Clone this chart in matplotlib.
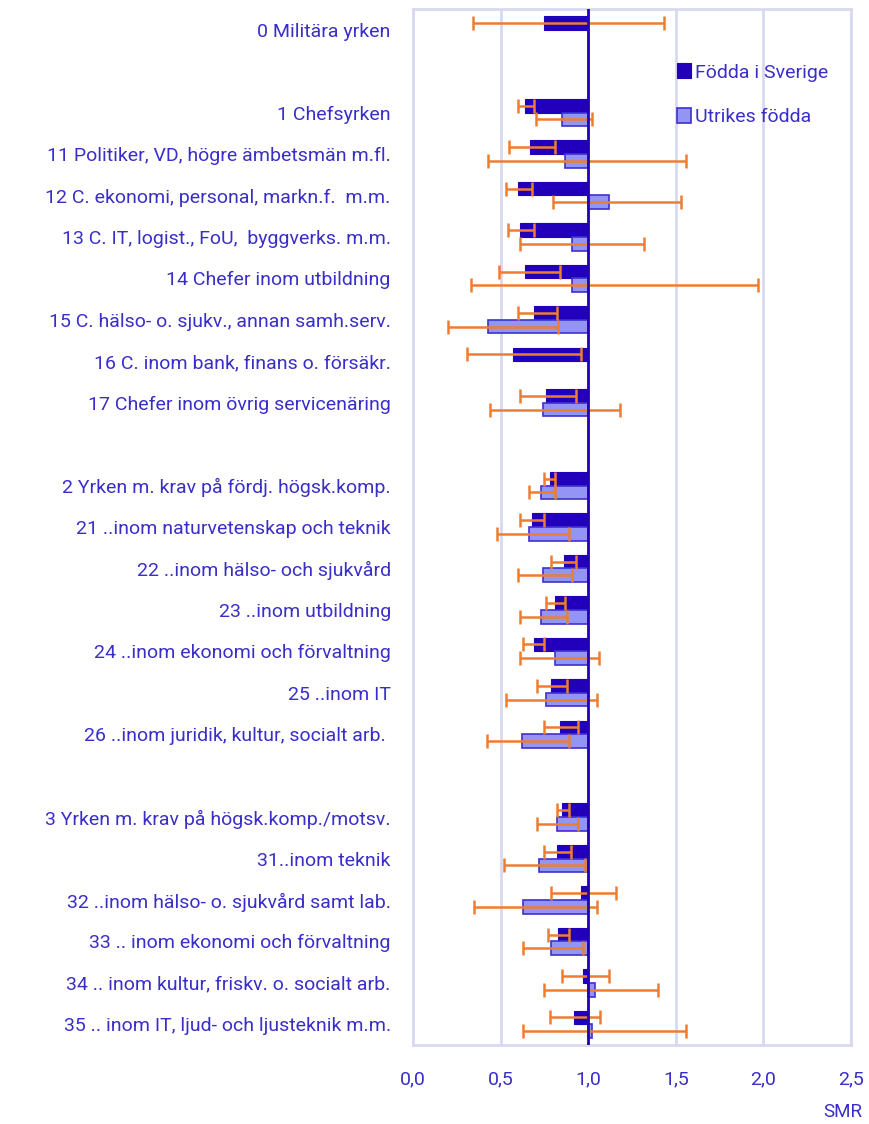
import numpy as np
import matplotlib.pyplot as plt


LABELS = [
    "0 Militära yrken",
    "",
    "1 Chefsyrken",
    "11 Politiker, VD, högre ämbetsmän m.fl.",
    "12 C. ekonomi, personal, markn.f.  m.m.",
    "13 C. IT, logist., FoU,  byggverks. m.m.",
    "14 Chefer inom utbildning",
    "15 C. hälso- o. sjukv., annan samh.serv.",
    "16 C. inom bank, finans o. försäkr.",
    "17 Chefer inom övrig servicenäring",
    "",
    "2 Yrken m. krav på fördj. högsk.komp.",
    "21 ..inom naturvetenskap och teknik",
    "22 ..inom hälso- och sjukvård",
    "23 ..inom utbildning",
    "24 ..inom ekonomi och förvaltning",
    "25 ..inom IT",
    "26 ..inom juridik, kultur, socialt arb. ",
    "",
    "3 Yrken m. krav på högsk.komp./motsv.",
    "31..inom teknik",
    "32 ..inom hälso- o. sjukvård samt lab.",
    "33 .. inom ekonomi och förvaltning",
    "34 .. inom kultur, friskv. o. socialt arb.",
    "35 .. inom IT, ljud- och ljusteknik m.m.",
]

nan = np.nan

# Födda i Sverige: SMR, lower and upper confidence limit
SWE_SMR = [0.75, nan, 0.64, 0.67, 0.60, 0.61, 0.64, 0.69, 0.57, 0.76, nan,
           0.78, 0.68, 0.86, 0.81, 0.69, 0.79, 0.84, nan,
           0.85, 0.82, 0.96, 0.83, 0.97, 0.92]
SWE_LO = [0.34, nan, 0.60, 0.55, 0.53, 0.54, 0.49, 0.60, 0.31, 0.61, nan,
          0.75, 0.61, 0.79, 0.76, 0.63, 0.71, 0.75, nan,
          0.82, 0.75, 0.79, 0.77, 0.85, 0.78]
SWE_HI = [1.43, nan, 0.69, 0.81, 0.68, 0.69, 0.84, 0.82, 0.96, 0.93, nan,
          0.81, 0.75, 0.93, 0.87, 0.75, 0.88, 0.94, nan,
          0.89, 0.90, 1.16, 0.89, 1.12, 1.07]

# Utrikes födda
FOR_SMR = [nan, nan, 0.85, 0.87, 1.12, 0.91, 0.91, 0.43, nan, 0.74, nan,
           0.73, 0.66, 0.74, 0.73, 0.81, 0.76, 0.62, nan,
           0.82, 0.72, 0.63, 0.79, 1.04, 1.02]
FOR_LO = [nan, nan, 0.70, 0.43, 0.80, 0.61, 0.33, 0.20, nan, 0.44, nan,
          0.66, 0.48, 0.60, 0.61, 0.61, 0.53, 0.42, nan,
          0.71, 0.52, 0.35, 0.63, 0.75, 0.63]
FOR_HI = [nan, nan, 1.02, 1.56, 1.53, 1.32, 1.97, 0.83, nan, 1.18, nan,
          0.81, 0.89, 0.91, 0.88, 1.06, 1.05, 0.89, nan,
          0.94, 0.98, 1.05, 0.97, 1.40, 1.56]

X_TICKS = [0.0, 0.5, 1.0, 1.5, 2.0, 2.5]
X_TICK_LABELS = ["0,0", "0,5", "1,0", "1,5", "2,0", "2,5"]

TEXT_COLOR = "#3a2ec8"
DARK = "#2200bb"
LIGHT = "#9494f4"
ORANGE = "#ee7d31"
GRID = "#d8d8f2"


def main():
    plt.rcParams["font.family"] = ["Roboto", "DejaVu Sans"]

    fig = plt.figure(figsize=(8.69, 11.24), dpi=100)
    ax = fig.add_axes([413 / 869, 1 - 1045 / 1124, 438 / 869, 1036 / 1124])

    y = np.arange(len(LABELS))
    h = 0.33

    swe = np.array(SWE_SMR)
    fo = np.array(FOR_SMR)

    ax.barh(y - h / 2, swe - 1, left=1, height=h, color=DARK,
            edgecolor=DARK, linewidth=0.8, label="Födda i Sverige", zorder=3)
    ax.barh(y + h / 2, fo - 1, left=1, height=h, color=LIGHT,
            edgecolor="#4030d0", linewidth=1.2, label="Utrikes födda", zorder=3)

    swe_err = [swe - np.array(SWE_LO), np.array(SWE_HI) - swe]
    for_err = [fo - np.array(FOR_LO), np.array(FOR_HI) - fo]
    ax.errorbar(swe, y - h / 2, xerr=swe_err, fmt="none", ecolor=ORANGE,
                elinewidth=1.8, capsize=5, capthick=1.8, zorder=4)
    ax.errorbar(fo, y + h / 2, xerr=for_err, fmt="none", ecolor=ORANGE,
                elinewidth=1.8, capsize=5, capthick=1.8, zorder=4)

    ax.axvline(1.0, color=DARK, linewidth=2, zorder=5)

    ax.set_xlim(0, 2.5)
    ax.set_ylim(len(LABELS) - 0.5, -0.5)
    ax.set_xticks(X_TICKS)
    ax.set_xticklabels(X_TICK_LABELS)
    ax.set_yticks(y)
    ax.set_yticklabels(LABELS)

    ax.grid(axis="x", color=GRID, linewidth=2, zorder=0)
    ax.set_axisbelow(True)
    for spine in ax.spines.values():
        spine.set_color(GRID)
        spine.set_linewidth(2)

    ax.tick_params(axis="y", length=0, pad=16, labelsize=14,
                   labelcolor=TEXT_COLOR)
    ax.tick_params(axis="x", length=0, pad=18, labelsize=14,
                   labelcolor=TEXT_COLOR)

    fig.text(862 / 869, 1 - 1112 / 1124, "SMR", ha="right", va="center",
             fontsize=13.5, color=TEXT_COLOR)

    leg = ax.legend(loc="upper left", bbox_to_anchor=(0.585, 0.955),
                    frameon=False, fontsize=14, handlelength=0.7,
                    handleheight=0.8, handletextpad=0.25, labelspacing=1.35,
                    borderaxespad=0)
    for text in leg.get_texts():
        text.set_color(TEXT_COLOR)

    fig.savefig("out.png", dpi=100)


if __name__ == "__main__":
    main()
